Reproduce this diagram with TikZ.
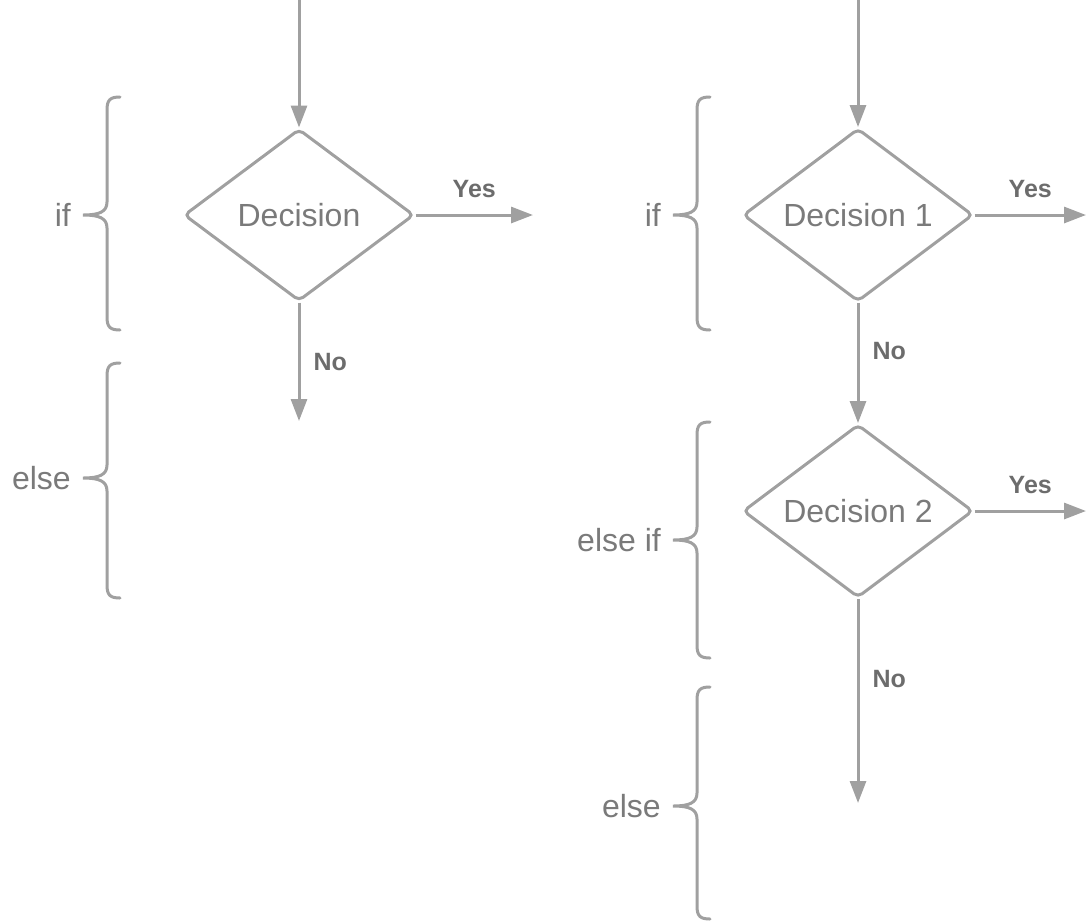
\documentclass[tikz,border=0pt]{standalone}
\usepackage{fontspec}
\setmainfont{Liberation Sans}
\usetikzlibrary{arrows.meta, shapes.geometric}
\definecolor{LineGray}{HTML}{A0A0A0}
\definecolor{TextGray}{HTML}{7A7A7A}
\definecolor{TagGray}{HTML}{6C6C6C}
\tikzset{
  decision/.style={
    diamond, draw=LineGray, line width=3pt, rounded corners=5pt,
    minimum width=230pt, minimum height=172pt, inner sep=0pt,
    text=TextGray, font=\fontsize{32}{36}\selectfont
  },
  arr/.style={-{Triangle[length=22pt, width=16pt]}, line width=3pt, color=LineGray},
  tag/.style={font=\fontsize{25}{29}\selectfont\bfseries, text=TagGray, inner sep=7pt},
  side/.style={font=\fontsize{32}{36}\selectfont, text=TextGray, inner sep=2pt, anchor=east},
  curl/.style={line width=3pt, color=LineGray, line cap=round},
}

\begin{document}
\begin{tikzpicture}[x=1pt, y=-1pt]
\useasboundingbox (0,0) rectangle (1087,922);

% single if / else
\coordinate (in1) at (299,0);
\node[decision] at (299,215) (dec) {Decision};
\coordinate (yes0) at (533,215);
\coordinate (no0) at (299,421);
\draw[arr] (in1) -- (dec.north);
\draw[arr] (dec.east) -- node[tag, above=9pt] {Yes} (yes0);
\draw[arr] (dec.south) -- node[tag, right=6pt] {No} (no0);

% if / else if / else chain
\coordinate (in2) at (858,0);
\node[decision] at (858,215) (dec1) {Decision 1};
\node[decision] at (858,511) (dec2) {Decision 2};
\coordinate (yes1) at (1086,215);
\coordinate (yes2) at (1086,511);
\coordinate (no2) at (858,803);
\draw[arr] (in2) -- (dec1.north);
\draw[arr] (dec1.east) -- node[tag, above=9pt] {Yes} (yes1);
\draw[arr] (dec1.south) -- node[tag, right=6pt, pos=0.4] {No} (dec2.north);
\draw[arr] (dec2.east) -- node[tag, above=9pt] {Yes} (yes2);
\draw[arr] (dec2.south) -- node[tag, right=6pt, pos=0.39] {No} (no2);

% curly braces with their keywords
\foreach \x/\t/\m/\b/\txt/\nm in {
    107/97/215/330/if/kIf,
    107/363/478/598/else/kElse,
    697/97/215/330/if/kIfB,
    697/422/540/658/else if/kElseIf,
    697/687/806/919/else/kElseB} {
  \draw[curl] (\x+13,\t) .. controls (\x+3,\t) and (\x,\t+3) .. (\x,\t+13)
    -- (\x,\m-13) .. controls (\x,\m-3) and (\x-8,\m) .. (\x-24,\m)
    .. controls (\x-8,\m) and (\x,\m+3) .. (\x,\m+13)
    -- (\x,\b-13) .. controls (\x,\b-3) and (\x+3,\b) .. (\x+13,\b);
  \node[side] at (\x-34,\m) (\nm) {\txt};
}

\end{tikzpicture}
\end{document}
